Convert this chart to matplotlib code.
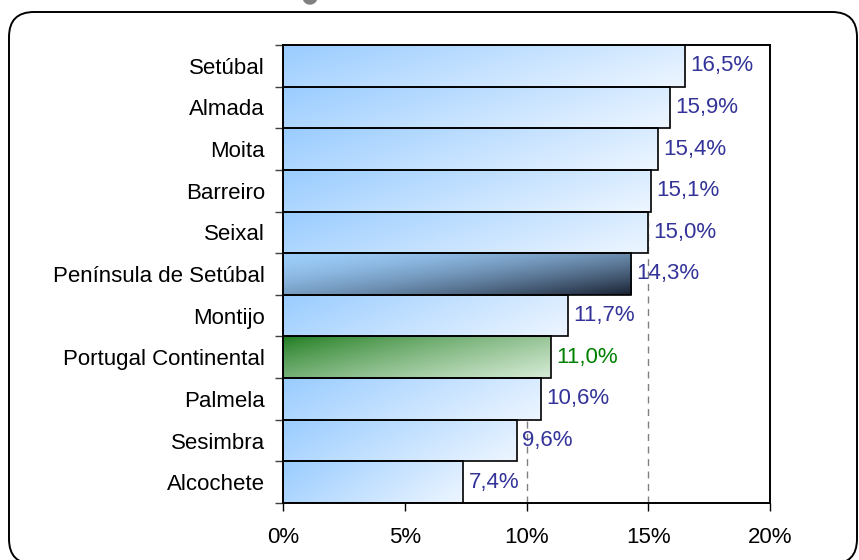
import numpy as np
import matplotlib
matplotlib.use("Agg")
import matplotlib.pyplot as plt
from matplotlib.patches import Rectangle, FancyBboxPatch, Circle
from matplotlib.transforms import IdentityTransform
from matplotlib.colors import to_rgb

categories = ["Setúbal", "Almada", "Moita", "Barreiro", "Seixal",
              "Península de Setúbal", "Montijo", "Portugal Continental",
              "Palmela", "Sesimbra", "Alcochete"]
values = [16.5, 15.9, 15.4, 15.1, 15.0, 14.3, 11.7, 11.0, 10.6, 9.6, 7.4]
labels = ["16,5%", "15,9%", "15,4%", "15,1%", "15,0%", "14,3%", "11,7%",
          "11,0%", "10,6%", "9,6%", "7,4%"]
xticks = [0, 5, 10, 15, 20]
xticklabels = ["0%", "5%", "10%", "15%", "20%"]

plt.rcParams['font.family'] = ['Liberation Sans', 'DejaVu Sans']
FS = 16

fig = plt.figure(figsize=(8.59, 5.6), dpi=100)
ax = fig.add_axes([283/859, 57/560, 487/859, 458/560])

def gradient(c0, c1, ny=40, nx=120, wu=0.7, wv=0.3, gamma=1.0):
    c0 = np.array(to_rgb(c0)); c1 = np.array(to_rgb(c1))
    u = np.linspace(0, 1, nx)[None, :]
    v = np.linspace(0, 1, ny)[:, None]
    t = np.clip(wu * u + wv * v, 0, 1) ** gamma
    t = t[..., None]
    return c0 * (1 - t) + c1 * t

styles = {}
for i, c in enumerate(categories):
    if c == "Península de Setúbal":
        styles[i] = (gradient("#9CCDFA", "#1A2232", wu=0.55, wv=0.45, gamma=1.6), "#333399")
    elif c == "Portugal Continental":
        styles[i] = (gradient("#1C7A1C", "#D6EBD6", wu=0.6, wv=0.4, gamma=0.8), "#008000")
    else:
        styles[i] = (gradient("#99CCFF", "#EEF6FF", wu=0.75, wv=0.25), "#333399")

ax.set_xlim(0, 20)
ax.set_ylim(len(categories) - 0.5, -0.5)

for x in [5, 10, 15]:
    ax.axvline(x, color="#808080", lw=1.0, ls=(0, (5, 4)), zorder=0)

for i, (v, lab) in enumerate(zip(values, labels)):
    img, tcol = styles[i]
    rect = Rectangle((0, i - 0.5), v, 1.0, facecolor="none",
                     edgecolor="black", lw=1.2, zorder=3)
    im = ax.imshow(img, extent=(0, v, i + 0.5, i - 0.5), origin="upper",
                   aspect="auto", zorder=2, interpolation="bilinear")
    ax.add_patch(rect)
    im.set_clip_path(rect)
    ax.text(v + 0.22, i, lab, va="center", ha="left", fontsize=FS,
            color=tcol, zorder=4)

ax.set_xlim(0, 20)
ax.set_ylim(len(categories) - 0.5, -0.5)

ax.set_yticks(range(len(categories)))
ax.set_yticklabels(categories, fontsize=FS)
ax.set_yticks(np.arange(-0.5, len(categories), 1.0), minor=True)
ax.tick_params(axis="y", which="major", length=0, pad=13)
ax.tick_params(axis="y", which="minor", length=6, width=1, color="#404040")
ax.set_xticks(xticks)
ax.set_xticklabels(xticklabels, fontsize=FS)
ax.tick_params(axis="x", length=6, width=1, pad=11)

for s in ax.spines.values():
    s.set_linewidth(1.4)
    s.set_color("black")
    s.set_zorder(5)

border = FancyBboxPatch((9, -4), 848, 552, boxstyle="round,pad=0,rounding_size=25",
                        transform=IdentityTransform(), fill=False,
                        edgecolor="black", lw=1.4)
fig.patches.append(border)
dot = Circle((310, 563), 7, transform=IdentityTransform(), color="#808080")
fig.patches.append(dot)

fig.savefig("out.png", dpi=100)
